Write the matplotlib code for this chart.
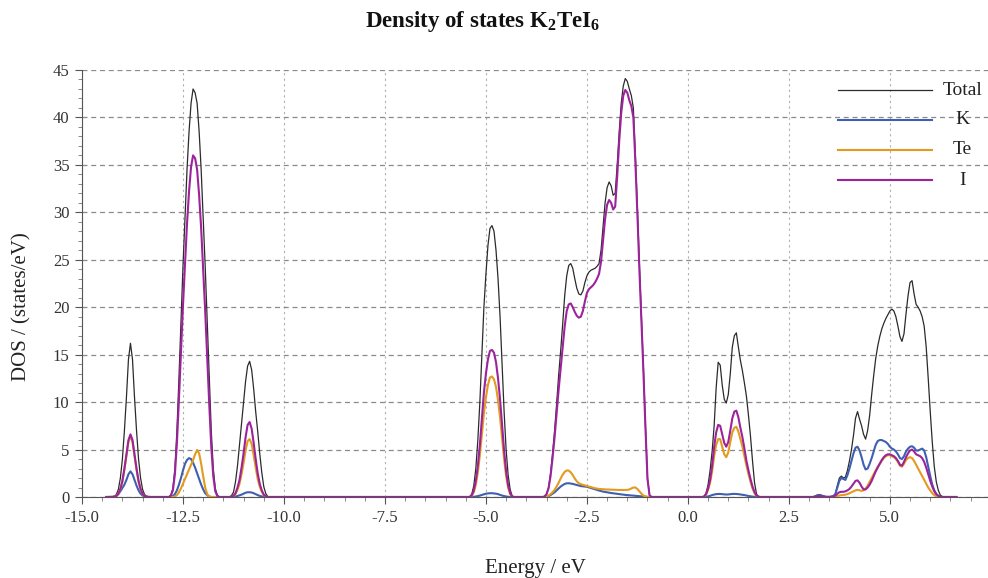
import numpy as np
import matplotlib
matplotlib.use('Agg')
import matplotlib.pyplot as plt
from matplotlib.ticker import MultipleLocator, FormatStrFormatter

plt.rcParams['font.family'] = ['Liberation Serif', 'DejaVu Serif']
plt.rcParams['mathtext.fontset'] = 'custom'
plt.rcParams['mathtext.rm'] = 'Liberation Serif:bold'
plt.rcParams['mathtext.default'] = 'rm'


def grid(a, b):
    # energy sampling of one band, 0.05 eV step
    return np.linspace(a, b, int(round((b - a) / 0.05)) + 1)


# ---- band 1, around -13.8 eV
e1 = grid(-14.35, -13.3)
total1 = [0, 0, 0.02, 0.08, 0.25, 0.8, 2.0, 4.0, 7.0, 10.5, 14.5, 16.2, 14.5, 10.5, 7.0, 4.0, 2.0, 0.8, 0.25, 0.08, 0.02, 0]
k1 = [0, 0, 0.01, 0.03, 0.1, 0.3, 0.6, 0.95, 1.3, 1.8, 2.4, 2.7, 2.4, 1.8, 1.2, 0.7, 0.35, 0.15, 0.05, 0.01, 0, 0]
te1 = [0, 0, 0.01, 0.04, 0.11, 0.33, 0.8, 1.6, 2.9, 4.3, 5.8, 6.4, 5.8, 4.3, 2.9, 1.6, 0.8, 0.33, 0.11, 0.04, 0.01, 0]
i1 = [0, 0, 0.01, 0.04, 0.12, 0.35, 0.85, 1.7, 3.0, 4.5, 6.0, 6.6, 6.0, 4.5, 3.0, 1.7, 0.85, 0.35, 0.12, 0.04, 0.01, 0]

# ---- band 2, around -12.2 eV
e2 = grid(-12.85, -11.6)
total2 = [0, 0.2, 0.9, 3.0, 7.0, 12.5, 18.5, 24.3, 29.5, 34.5, 38.5, 41.5, 43.0, 42.6, 41.5, 38.5, 34.5, 29.5, 24.3, 18.5, 12.5, 7.0, 3.0, 0.9, 0.2, 0]
k2 = [0, 0, 0.1, 0.3, 0.7, 1.3, 2.0, 2.8, 3.5, 3.9, 4.1, 4.0, 3.6, 3.1, 2.5, 1.9, 1.3, 0.8, 0.4, 0.2, 0.05, 0, 0, 0, 0, 0]
te2 = [0, 0, 0, 0.05, 0.2, 0.5, 0.9, 1.4, 1.9, 2.4, 2.9, 3.4, 3.9, 4.5, 4.95, 4.6, 3.5, 2.2, 1.0, 0.3, 0.05, 0, 0, 0, 0, 0]
i2 = [0, 0.15, 0.7, 2.4, 5.7, 10.3, 15.3, 20.2, 24.6, 28.8, 32.2, 34.8, 36.0, 35.7, 34.5, 31.8, 28.3, 24.0, 19.6, 14.7, 9.8, 5.3, 2.2, 0.6, 0.1, 0]

# ---- band 3, around -10.85 eV
e3 = grid(-11.35, -10.3)
total3 = [0, 0.15, 0.5, 1.6, 3.3, 5.5, 7.8, 10.0, 12.2, 13.8, 14.3, 13.4, 11.4, 9.0, 6.9, 4.6, 2.6, 1.1, 0.35, 0.05, 0, 0]
k3 = [0, 0, 0.02, 0.05, 0.1, 0.17, 0.25, 0.35, 0.45, 0.5, 0.5, 0.47, 0.4, 0.3, 0.2, 0.12, 0.06, 0.02, 0, 0, 0, 0]
te3 = [0, 0.02, 0.1, 0.3, 0.75, 1.4, 2.4, 3.6, 4.9, 5.9, 6.1, 5.6, 4.4, 3.1, 1.9, 1.1, 0.55, 0.2, 0.05, 0, 0, 0]
i3 = [0, 0.02, 0.12, 0.4, 1.0, 1.8, 3.1, 4.6, 6.3, 7.6, 7.9, 7.2, 5.7, 4.0, 2.5, 1.4, 0.7, 0.25, 0.08, 0, 0, 0]

# ---- band 4, around -4.85 eV
e4 = grid(-5.45, -4.3)
total4 = [0, 0.05, 0.3, 1.2, 3.0, 6.0, 10.0, 15.0, 20.0, 23.5, 26.5, 28.3, 28.6, 28.0, 26.0, 23.0, 19.0, 14.0, 9.0, 5.0, 2.3, 0.8, 0.1, 0]
k4 = [0, 0, 0, 0.02, 0.05, 0.1, 0.15, 0.22, 0.3, 0.35, 0.38, 0.4, 0.4, 0.38, 0.35, 0.3, 0.22, 0.15, 0.1, 0.05, 0.02, 0, 0, 0]
te4 = [0, 0, 0.15, 0.5, 1.3, 2.6, 4.4, 6.6, 8.8, 10.5, 11.8, 12.6, 12.7, 12.4, 11.6, 10.2, 8.4, 6.2, 4.0, 2.2, 1.0, 0.3, 0.05, 0]
i4 = [0, 0, 0.2, 0.7, 1.7, 3.3, 5.5, 8.2, 11.0, 13.0, 14.5, 15.4, 15.5, 15.2, 14.2, 12.5, 10.3, 7.6, 4.9, 2.7, 1.2, 0.4, 0.05, 0]

# ---- band 5, valence band top -3.6 .. -0.9 eV
e5 = grid(-3.7, -0.8)
total5 = [0, 0, 0, 0.05, 0.3, 1.0, 2.5, 4.6, 7.0, 9.8, 12.8, 15.4, 18.2, 21.2, 23.3, 24.4, 24.6, 24.1, 23.0, 22.0,
          21.4, 21.3, 21.7, 22.6, 23.3, 23.7, 23.9, 24.0, 24.1, 24.3, 24.6, 26.0, 28.5, 31.0, 32.6, 33.2, 32.8, 31.8,
          32.0, 35.0, 38.5, 41.5, 43.3, 44.1, 43.8, 43.0, 42.3, 41.0, 36.0, 30.5, 24.5, 19.0, 13.5, 7.5, 2.0, 0.2,
          0, 0, 0]
k5 = [0, 0, 0, 0, 0.05, 0.1, 0.2, 0.35, 0.5, 0.7, 0.9, 1.1, 1.25, 1.38, 1.44, 1.45, 1.42, 1.38, 1.32, 1.26,
      1.2, 1.15, 1.12, 1.1, 1.08, 1.02, 0.95, 0.88, 0.82, 0.75, 0.68, 0.62, 0.57, 0.53, 0.5, 0.46, 0.42, 0.39,
      0.36, 0.33, 0.3, 0.27, 0.24, 0.22, 0.2, 0.18, 0.16, 0.14, 0.12, 0.1, 0.08, 0.06, 0.04, 0.02, 0.01, 0,
      0, 0, 0]
te5 = [0, 0, 0, 0, 0.05, 0.15, 0.3, 0.5, 0.75, 1.1, 1.5, 1.95, 2.35, 2.65, 2.8, 2.78, 2.6, 2.3, 1.95, 1.65,
       1.45, 1.35, 1.28, 1.22, 1.16, 1.1, 1.03, 0.97, 0.92, 0.88, 0.85, 0.83, 0.81, 0.8, 0.79, 0.78, 0.77, 0.76,
       0.75, 0.75, 0.74, 0.74, 0.74, 0.74, 0.75, 0.8, 0.9, 1.0, 1.0, 0.85, 0.6, 0.35, 0.15, 0.05, 0.01, 0,
       0, 0, 0]
i5 = [0, 0, 0, 0.05, 0.3, 0.9, 2.2, 4.1, 6.3, 8.8, 11.3, 13.5, 15.8, 18.0, 19.6, 20.3, 20.4, 20.0, 19.5, 19.1,
      18.9, 19.0, 19.6, 20.6, 21.5, 21.9, 22.1, 22.3, 22.6, 23.0, 23.5, 24.8, 27.0, 29.3, 30.8, 31.3, 31.0, 30.3,
      30.6, 33.8, 37.5, 40.5, 42.3, 42.9, 42.6, 41.8, 41.2, 40.0, 35.3, 29.8, 23.9, 18.5, 13.1, 7.2, 1.9, 0.2,
      0, 0, 0]

# ---- band 6, conduction band 0.4 .. 1.7 eV
e6 = grid(0.3, 1.85)
total6 = [0, 0, 0.05, 0.4, 1.3, 2.8, 4.8, 7.5, 11.5, 14.2, 13.9, 11.8, 10.3, 9.9, 10.8, 13.0, 15.8, 17.0, 17.3, 15.8,
          14.4, 13.3, 12.0, 10.6, 8.6, 6.4, 3.8, 1.5, 0.3, 0.05, 0, 0]
k6 = [0, 0, 0, 0.02, 0.06, 0.12, 0.2, 0.26, 0.3, 0.32, 0.32, 0.3, 0.27, 0.26, 0.27, 0.3, 0.32, 0.33, 0.32, 0.3,
      0.27, 0.23, 0.2, 0.15, 0.11, 0.07, 0.04, 0.02, 0, 0, 0, 0]
te6 = [0, 0, 0.03, 0.25, 0.75, 1.5, 2.7, 4.3, 5.5, 6.1, 6.1, 5.3, 4.5, 4.2, 4.7, 5.8, 6.8, 7.3, 7.4, 6.9,
       6.1, 5.3, 4.3, 3.3, 2.4, 1.6, 0.9, 0.4, 0.1, 0.02, 0, 0]
i6 = [0, 0, 0.05, 0.3, 0.9, 1.8, 3.3, 5.3, 6.8, 7.6, 7.5, 6.6, 5.7, 5.3, 5.8, 7.0, 8.3, 9.0, 9.1, 8.4,
      7.3, 6.3, 5.1, 3.8, 2.8, 1.9, 1.1, 0.5, 0.15, 0.03, 0, 0]

# ---- band 7, conduction band 3.2 .. 6.3 eV
e7 = grid(3.0, 6.4)
total7 = [0, 0, 0.02, 0.1, 0.2, 0.25, 0.2, 0.12, 0.05, 0.02, 0.02, 0.05,
          0.1, 0.3, 1.2, 2.0, 2.2, 2.0, 2.1, 2.8, 3.8, 5.0, 6.5, 8.3, 9.0, 8.2, 7.5, 6.6, 6.1, 7.0,
          8.6, 10.8, 12.8, 14.6, 15.9, 16.9, 17.7, 18.3, 18.8, 19.2, 19.6, 19.8, 19.6, 19.0, 18.0, 16.9, 16.4,
          17.2, 19.3, 21.2, 22.6, 22.8, 21.4, 20.3, 20.0, 19.6, 19.0, 18.0, 15.8, 12.5, 9.0, 5.8, 3.2, 1.6,
          0.7, 0.2, 0.05, 0, 0]
k7 = [0, 0, 0, 0.05, 0.15, 0.2, 0.15, 0.08, 0.03, 0.02, 0.02, 0.04,
      0.1, 0.3, 1.0, 1.7, 2.0, 1.9, 1.8, 2.3, 3.0, 3.8, 4.6, 5.2, 5.3, 4.9, 4.2, 3.4, 2.9, 3.0,
      3.5, 4.1, 4.8, 5.5, 5.9, 6.0, 6.0, 5.9, 5.8, 5.6, 5.3, 5.1, 5.0, 4.8, 4.5, 4.1, 4.0,
      4.3, 4.8, 5.1, 5.3, 5.35, 5.2, 4.9, 4.9, 5.0, 5.1, 4.9, 4.2, 3.2, 2.2, 1.3, 0.7, 0.3,
      0.1, 0.03, 0, 0, 0]
te7 = [0, 0, 0, 0, 0, 0, 0, 0, 0, 0, 0, 0,
       0, 0.05, 0.1, 0.15, 0.2, 0.2, 0.25, 0.3, 0.4, 0.5, 0.6, 0.7, 0.75, 0.7, 0.65, 0.7, 0.9, 1.2,
       1.6, 2.0, 2.4, 2.8, 3.2, 3.5, 3.8, 4.1, 4.3, 4.4, 4.4, 4.3, 4.2, 4.0, 3.7, 3.3, 3.2,
       3.5, 3.9, 4.1, 4.2, 4.1, 3.8, 3.4, 3.0, 2.6, 2.2, 1.8, 1.4, 1.0, 0.7, 0.4, 0.2, 0.08,
       0.02, 0, 0, 0, 0]
i7 = [0, 0, 0, 0.02, 0.05, 0.08, 0.06, 0.03, 0.01, 0, 0, 0.02,
      0.05, 0.15, 0.35, 0.5, 0.55, 0.55, 0.6, 0.7, 0.85, 1.1, 1.4, 1.7, 1.75, 1.5, 1.1, 0.8, 0.8, 1.0,
      1.3, 1.7, 2.2, 2.7, 3.1, 3.5, 3.9, 4.2, 4.4, 4.5, 4.5, 4.4, 4.3, 4.1, 3.8, 3.4, 3.3,
      3.7, 4.2, 4.6, 4.9, 5.0, 4.8, 4.5, 4.4, 4.3, 4.1, 3.7, 3.1, 2.4, 1.7, 1.1, 0.6, 0.3,
      0.12, 0.04, 0, 0, 0]

bands_e = [e1, e2, e3, e4, e5, e6, e7]
energy = np.concatenate([[-14.4]] + bands_e + [[6.65]])
total = np.concatenate([[0], total1, total2, total3, total4, total5, total6, total7, [0]])
dos_k = np.concatenate([[0], k1, k2, k3, k4, k5, k6, k7, [0]])
dos_te = np.concatenate([[0], te1, te2, te3, te4, te5, te6, te7, [0]])
dos_i = np.concatenate([[0], i1, i2, i3, i4, i5, i6, i7, [0]])

names = ['Total', 'K', 'Te', 'I']
colors = ['#2b2b2b', '#3f5fb0', '#e39a1e', '#9c239c']
widths = [0.9, 1.5, 1.5, 1.5]

fig = plt.figure(figsize=(9.88, 5.78), dpi=100)
ax = fig.add_axes([82 / 988, 81 / 578, 906 / 988, 427 / 578])

series = [total, dos_k, dos_te, dos_i]
for idx in [0, 2, 3, 1]:
    ax.plot(energy, series[idx], color=colors[idx], lw=widths[idx], zorder=3 + idx * 0.1)

ax.set_xlim(-15, 7.43)
ax.set_ylim(0, 45)
ax.xaxis.set_major_locator(MultipleLocator(2.5))
ax.xaxis.set_minor_locator(MultipleLocator(0.5))
ax.yaxis.set_major_locator(MultipleLocator(5))
ax.yaxis.set_minor_locator(MultipleLocator(1))
ax.xaxis.set_major_formatter(FormatStrFormatter('%.1f'))
ax.yaxis.set_major_formatter(FormatStrFormatter('%d'))
ax.tick_params(which='major', direction='out', length=5, width=0.8, color='#555555',
               labelsize=12, labelcolor='#333333', pad=4)
ax.tick_params(which='minor', direction='out', length=3, width=0.6, color='#777777')

ax.grid(axis='y', which='major', linestyle=(0, (4, 3)), color='#8a8a8a', lw=0.9)
ax.grid(axis='x', which='major', linestyle=(0, (2, 3)), color='#b0b0b0', lw=0.8)
for s in ['top', 'right']:
    ax.spines[s].set_visible(False)
for s in ['left', 'bottom']:
    ax.spines[s].set_color('#555555')
    ax.spines[s].set_linewidth(0.8)

# legend drawn by hand so that the labels sit centred in a column
rows = [0.953, 0.883, 0.813, 0.742]
for name, c, w, yy in zip(names, colors, widths, rows):
    ax.plot([0.834, 0.938], [yy, yy], transform=ax.transAxes, color=c, lw=w, clip_on=False, zorder=5)
    ax.text(0.972, yy, name, transform=ax.transAxes, ha='center', va='center',
            fontsize=14, color='#222222')

ax.set_xlabel('Energy / eV', fontsize=15, color='#222222', labelpad=24)
fig.text(22 / 988, 1 - 307 / 578, 'DOS / (states/eV)', rotation=90, ha='center', va='center',
         fontsize=15, color='#222222')
fig.text(483 / 988, 1 - 22 / 578, 'Density of states K$_2$TeI$_6$', ha='center', va='center',
         fontsize=16.5, fontweight='bold', color='#111111')

fig.savefig('out.png', dpi=100)
